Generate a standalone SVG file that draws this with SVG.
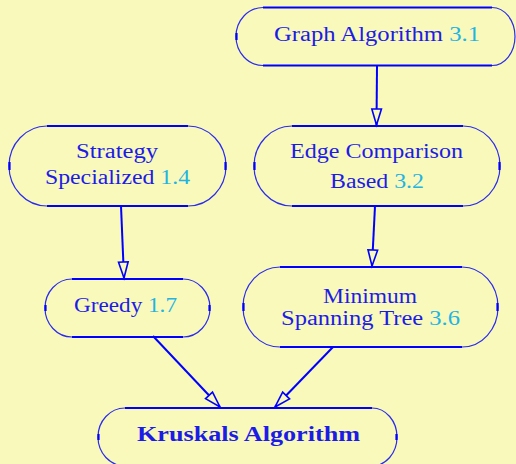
<svg xmlns="http://www.w3.org/2000/svg" width="516" height="464" viewBox="0 0 516 464">
  <style>
    .bg { fill: #f9f9bb; }
    .outline { fill: none; stroke: #2a2af0; stroke-width: 1.2; }
    .flat { stroke: #0000ff; stroke-width: 2.2; }
    .lbl { font-family: "Liberation Serif", "DejaVu Serif", serif; font-size: 20px; fill: #1c1ce8; text-anchor: middle; }
    .bold { font-weight: bold; }
    .num { fill: #22b4e4; }
    .edge { fill: none; stroke: #0000ff; stroke-width: 2; marker-end: url(#tri); }
  </style>
  <defs>
    <marker id="tri" markerUnits="userSpaceOnUse" markerWidth="24" markerHeight="16" viewBox="-20 -8 24 16" refX="0" refY="0" orient="auto">
      <path d="M0,0 L-16,-4.8 L-16,4.8 Z" fill="#f9f9bb" stroke="#0000ff" stroke-width="1.6" stroke-linejoin="miter"/>
    </marker>
  </defs>
  <rect class="bg" x="0" y="0" width="516" height="464"/>

  <g id="connectors">
    <line class="edge" x1="377" y1="66" x2="376.5" y2="125"/>
    <line class="edge" x1="121" y1="206" x2="124" y2="278"/>
    <line class="edge" x1="375" y1="206" x2="372" y2="266"/>
    <line class="edge" x1="153" y1="336" x2="220" y2="407"/>
    <line class="edge" x1="333" y1="347" x2="275" y2="407"/>
  </g>

  <g id="graph-algorithm">
    <path class="outline" d="M263,7.5 H492 A23,29 0 0 1 492,65.5 H263 A27,29 0 0 1 263,7.5 Z"/>
    <path class="flat" d="M263,7.5 H492 M263,65.5 H492 M236.5,33 V40"/>
    <text class="lbl" x="377" y="41" textLength="206" lengthAdjust="spacingAndGlyphs">Graph Algorithm <tspan class="num">3.1</tspan></text>
  </g>

  <g id="strategy-specialized">
    <path class="outline" d="M47,126 H188 A38,40 0 0 1 188,206 H47 A38,40 0 0 1 47,126 Z"/>
    <path class="flat" d="M47,126 H188 M47,206 H188 M9.5,162 V170 M225.5,162 V170"/>
    <text class="lbl" x="117" y="158" textLength="82" lengthAdjust="spacingAndGlyphs">Strategy</text>
    <text class="lbl" x="117.5" y="184" textLength="145" lengthAdjust="spacingAndGlyphs">Specialized <tspan class="num">1.4</tspan></text>
  </g>

  <g id="edge-comparison">
    <path class="outline" d="M292,126 H463 A37,40 0 0 1 463,206 H292 A38,40 0 0 1 292,126 Z"/>
    <path class="flat" d="M292,126 H463 M292,206 H463 M254.5,162 V170 M499.5,162 V170"/>
    <text class="lbl" x="376.5" y="158" textLength="173" lengthAdjust="spacingAndGlyphs">Edge Comparison</text>
    <text class="lbl" x="377" y="188" textLength="94" lengthAdjust="spacingAndGlyphs">Based <tspan class="num">3.2</tspan></text>
  </g>

  <g id="greedy">
    <path class="outline" d="M72,279 H183 A27,29 0 0 1 183,337 H72 A27,29 0 0 1 72,279 Z"/>
    <path class="flat" d="M72,279 H183 M72,337 H183 M45.5,305 V311 M209.5,305 V311"/>
    <text class="lbl" x="125.5" y="312" textLength="103" lengthAdjust="spacingAndGlyphs">Greedy <tspan class="num">1.7</tspan></text>
  </g>

  <g id="minimum-spanning-tree">
    <path class="outline" d="M280,267 H462 A36,40 0 0 1 462,347 H280 A37,40 0 0 1 280,267 Z"/>
    <path class="flat" d="M280,267 H462 M280,347 H462 M243.5,303 V311 M497.5,303 V311"/>
    <text class="lbl" x="370" y="303" textLength="94" lengthAdjust="spacingAndGlyphs">Minimum</text>
    <text class="lbl" x="370.5" y="325" textLength="179" lengthAdjust="spacingAndGlyphs">Spanning Tree <tspan class="num">3.6</tspan></text>
  </g>

  <g id="kruskals-algorithm">
    <path class="outline" d="M125,408 H372 A25,29 0 0 1 372,466 H125 A27,29 0 0 1 125,408 Z"/>
    <path class="flat" d="M125,408 H372 M98.5,434 V440 M396.5,434 V440"/>
    <text class="lbl bold" x="248.5" y="441" textLength="223" lengthAdjust="spacingAndGlyphs">Kruskals Algorithm</text>
  </g>
</svg>
